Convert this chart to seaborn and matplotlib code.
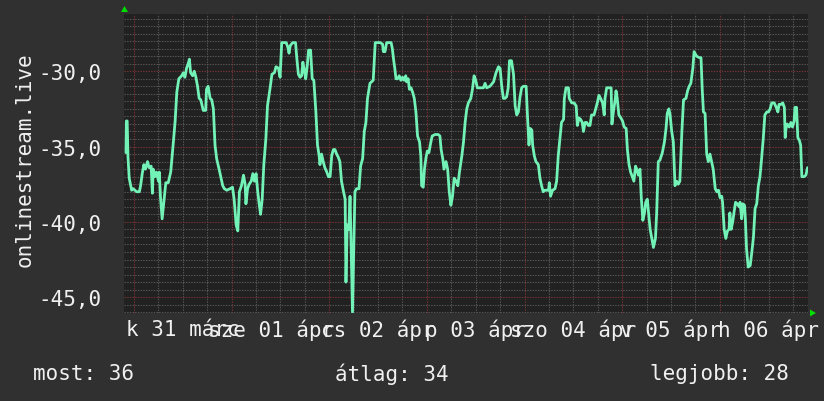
import matplotlib
matplotlib.use("Agg")
import matplotlib.pyplot as plt
import seaborn as sns
import pandas as pd
import numpy as np

# hours relative to 01 Apr 00:00
hours = [-26.0, -25.9, -25.7, -25.5, -25.2, -24.6, -24.2, -23.8, -23.4, -22.7, -22.4, -22.0, -21.6, -21.2,
         -20.7, -20.3, -19.8, -19.5, -19.3, -18.9, -18.5, -18.0, -17.8, -17.5, -17.1, -16.6, -16.2, -15.6,
         -15.0, -14.5, -13.9, -13.5, -13.0, -12.3, -11.9, -11.5, -11.1, -10.7, -10.4, -10.1, -9.6, -9.2,
         -8.8, -8.4, -8.0, -7.6, -7.0, -6.4, -6.2, -5.8, -5.3, -4.9, -4.5, -4.1, -3.7, -3.1, -2.7, -2.2,
         -1.8, -1.2, -0.4, 0.2, 0.6, 1.1, 1.5, 1.9, 2.4, 2.9, 3.3, 3.5, 3.9, 4.3, 4.8, 5.2, 5.6, 6.0, 6.4,
         6.8, 7.1, 7.5, 7.9, 8.4, 8.8, 9.4, 9.9, 10.5, 10.9, 11.5, 11.9, 12.3, 12.9, 13.4, 13.8, 14.1, 14.4,
         15.0, 15.7, 16.0, 16.4, 16.8, 17.2, 17.5, 17.9, 18.2, 18.6, 18.9, 19.4, 19.8, 20.2, 20.7, 21.1,
         21.5, 21.7, 22.1, 22.5, 22.9, 23.4, 23.8, 24.2, 24.6, 25.0, 25.4, 25.8, 26.2, 26.6, 27.0, 27.5,
         27.9, 28.1, 28.4, 28.8, 29.1, 29.3, 29.7, 30.1, 30.3, 30.7, 31.3, 31.7, 32.2, 32.6, 33.0, 33.4,
         34.0, 34.4, 34.8, 35.3, 35.8, 36.5, 37.1, 37.3, 37.7, 38.1, 38.8, 39.2, 39.5, 39.8, 40.1, 40.4,
         40.8, 41.2, 41.6, 42.0, 42.4, 42.8, 43.0, 43.4, 43.7, 44.1, 44.5, 44.9, 45.3, 45.7, 46.2, 46.5,
         46.7, 47.1, 47.4, 47.8, 48.1, 48.5, 48.9, 49.3, 50.0, 50.8, 51.2, 51.5, 51.9, 52.2, 52.7, 53.1,
         53.5, 53.9, 54.3, 54.7, 55.2, 55.6, 56.0, 56.6, 57.0, 57.4, 57.8, 58.2, 58.8, 59.2, 59.6, 60.0,
         60.4, 61.1, 61.9, 62.3, 62.7, 63.5, 64.4, 65.0, 65.6, 66.0, 66.4, 66.8, 67.2, 67.6, 68.0, 68.3,
         68.8, 69.3, 69.7, 70.1, 70.5, 70.9, 71.3, 71.7, 72.4, 72.7, 73.1, 73.4, 73.8, 74.0, 74.4, 74.8,
         75.4, 75.8, 76.2, 76.6, 77.0, 77.5, 77.9, 78.1, 78.4, 78.9, 79.5, 79.9, 80.3, 80.7, 81.1, 81.6,
         81.8, 82.2, 82.8, 83.0, 83.6, 84.2, 84.7, 85.0, 85.4, 85.8, 86.2, 86.5, 86.9, 87.3, 87.7, 88.1,
         88.5, 89.1, 89.5, 89.9, 90.3, 90.7, 91.2, 91.6, 91.8, 92.2, 92.9, 93.3, 93.5, 93.9, 94.3, 94.5,
         94.8, 95.2, 95.7, 96.1, 96.5, 97.0, 97.3, 97.7, 98.1, 98.5, 98.9, 99.3, 99.6, 100.0, 100.4, 100.7,
         101.1, 101.5, 101.8, 102.2, 102.5, 102.9, 103.3, 103.7, 104.2, 104.5, 104.9, 105.3, 105.9, 106.4,
         106.8, 107.1, 107.5, 107.8, 108.2, 108.6, 109.0, 109.4, 109.8, 110.2, 110.7, 111.1, 111.7, 112.1,
         112.5, 112.9, 113.4, 113.7, 114.3, 115.0, 115.4, 115.7, 116.0, 116.4, 116.8, 117.2, 117.6, 118.0,
         118.4, 118.9, 119.3, 119.7, 120.1, 120.5, 120.7, 121.1, 121.5, 121.9, 122.3, 122.5, 122.8, 123.2,
         123.5, 123.9, 124.3, 124.8, 125.0, 125.4, 125.7, 126.1, 126.3, 126.6, 127.0, 127.5, 127.9, 128.3,
         128.7, 129.1, 129.5, 129.9, 130.3, 130.7, 131.1, 131.6, 132.0, 132.4, 132.8, 133.4, 133.9, 134.3,
         134.6, 135.1, 135.5, 135.9, 136.1, 136.3, 136.6, 137.1, 137.5, 137.9, 138.3, 138.5, 138.9, 139.2,
         139.6, 139.9, 140.2, 140.7, 141.2, 141.6]

signal = [-35.4, -33.3, -33.3, -35.7, -37.1, -37.9, -37.8, -37.9, -38.0, -38.0, -37.6, -36.8, -36.2, -36.5,
          -36.0, -36.4, -36.3, -38.1, -36.5, -37.0, -36.7, -37.3, -36.7, -38.4, -39.8, -38.5, -37.4, -37.4,
          -36.7, -35.2, -33.3, -31.4, -30.5, -30.3, -30.1, -30.4, -29.8, -29.5, -29.2, -30.1, -30.3, -30.0,
          -30.4, -31.0, -31.8, -31.9, -32.6, -32.6, -31.2, -31.0, -31.8, -31.9, -32.5, -34.9, -35.8, -36.5,
          -37.0, -37.6, -37.8, -37.9, -37.8, -37.7, -38.5, -40.2, -40.6, -38.0, -37.6, -36.9, -37.5, -38.8,
          -37.8, -37.5, -37.3, -36.8, -37.3, -36.8, -38.0, -38.9, -39.5, -38.5, -36.2, -34.5, -32.3, -31.2,
          -30.2, -30.1, -29.7, -29.8, -30.4, -28.1, -28.1, -28.1, -28.4, -28.8, -28.3, -28.1, -28.1, -29.1,
          -30.2, -30.4, -30.3, -29.4, -30.0, -30.5, -29.6, -28.6, -28.6, -30.5, -30.6, -32.7, -34.9, -35.6,
          -36.2, -35.5, -36.0, -36.4, -36.7, -37.0, -37.0, -35.6, -35.2, -35.2, -35.5, -35.7, -36.0, -37.3,
          -38.0, -38.5, -44.0, -40.2, -40.5, -38.3, -40.7, -46.0, -40.5, -38.0, -37.8, -37.8, -36.3, -35.8,
          -34.0, -33.4, -31.8, -30.8, -30.7, -30.6, -28.1, -28.1, -28.1, -28.2, -28.7, -28.7, -28.1, -28.1,
          -28.1, -28.5, -29.2, -29.8, -30.5, -30.5, -30.3, -30.6, -30.4, -30.6, -30.3, -30.7, -30.5, -31.2,
          -31.1, -31.4, -31.8, -32.7, -34.3, -34.7, -35.6, -37.6, -37.7, -36.5, -35.7, -35.3, -35.4, -34.8,
          -34.3, -34.2, -34.2, -34.3, -35.2, -35.8, -36.5, -36.0, -36.5, -38.0, -38.9, -38.3, -37.1, -37.3,
          -37.6, -36.7, -35.6, -34.7, -33.4, -32.5, -32.1, -31.8, -31.2, -30.3, -30.6, -31.1, -31.1, -31.1,
          -30.8, -31.1, -31.0, -30.7, -30.1, -29.7, -29.8, -31.0, -31.8, -31.8, -31.7, -31.1, -29.3, -29.3,
          -30.2, -32.3, -32.9, -32.7, -31.7, -31.1, -31.0, -31.0, -32.8, -34.9, -33.8, -33.9, -34.9, -35.6,
          -36.0, -36.2, -37.1, -37.6, -38.0, -37.9, -37.9, -37.9, -37.4, -38.3, -37.9, -37.8, -37.3, -35.6,
          -34.5, -33.4, -33.2, -31.8, -31.1, -31.1, -31.8, -32.1, -32.1, -32.3, -33.6, -33.1, -33.2, -33.4,
          -34.0, -33.4, -33.4, -33.6, -33.6, -32.9, -32.9, -32.5, -32.1, -31.6, -31.8, -32.1, -32.9, -31.8,
          -31.1, -31.1, -31.1, -33.5, -32.6, -31.9, -31.3, -31.8, -32.9, -33.1, -33.3, -33.7, -33.8, -35.2,
          -36.2, -36.7, -37.0, -37.3, -36.3, -36.5, -36.9, -36.5, -38.3, -39.9, -39.4, -38.7, -38.5, -39.4,
          -40.5, -41.1, -41.7, -41.1, -39.4, -36.0, -35.9, -35.4, -34.7, -33.8, -32.8, -32.5, -32.9, -34.0,
          -34.7, -37.6, -37.3, -37.5, -37.3, -34.0, -31.9, -31.8, -31.3, -31.0, -30.8, -29.8, -28.7, -29.0,
          -29.1, -29.1, -31.2, -32.7, -32.8, -35.5, -36.0, -35.5, -36.0, -36.5, -37.8, -38.0, -37.9, -38.4,
          -38.3, -38.7, -40.5, -41.1, -40.6, -40.5, -39.4, -40.5, -40.0, -39.4, -38.7, -38.8, -39.0, -38.7,
          -39.8, -38.8, -38.9, -39.8, -41.8, -43.0, -42.9, -42.0, -41.0, -39.1, -38.8, -37.6, -37.0, -35.8,
          -34.5, -32.9, -32.7, -32.7, -32.5, -32.1, -32.1, -32.4, -32.7, -32.2, -32.2, -32.1, -32.4, -34.4,
          -33.8, -33.5, -33.7, -33.4, -33.7, -33.3, -32.4, -32.4, -34.4, -34.6, -34.9, -37.0, -37.0, -36.9,
          -36.4, -36.4]

day_ticks = [-12, 12, 36, 60, 84, 108, 132]
day_labels = ["k 31 márc", "sze 01 ápr", "cs 02 ápr", "p 03 ápr", "szo 04 ápr", "v 05 ápr", "h 06 ápr"]
y_ticks = [-45, -40, -35, -30]
y_labels = ["-45,0", "-40,0", "-35,0", "-30,0"]
series_name = "onlinestream.live"
stats = [("most", 36), ("átlag", 34), ("legjobb", 28)]

n = min(len(hours), len(signal))
df = pd.DataFrame({"hours": hours[:n], "signal": signal[:n]})

sns.set_style("dark")
plt.rcParams["font.family"] = ["DejaVu Sans Mono", "DejaVu Sans"]

BG = "#303030"
PLOT_BG = "#212121"
LINE = "#72f2b6"
MINOR = "#585858"
MAJOR = "#7a3434"
TEXT = "#f0f0f0"

fig = plt.figure(figsize=(8.24, 4.02), dpi=100, facecolor=BG)
ax = fig.add_axes([124 / 824, 1 - 314 / 402, (808 - 124) / 824, (314 - 15) / 402])
ax.set_facecolor(PLOT_BG)

ax.set_xlim(-26.48, 141.71)
ax.set_ylim(-46.05, -26.2)

# grids
ax.set_xticks(np.arange(-24, 142, 24))
ax.set_xticks(np.arange(-24, 142, 6), minor=True)
ax.set_yticks(y_ticks)
ax.set_yticks(np.arange(-46, -26.0, 0.5), minor=True)
ax.grid(False)
ax.grid(True, which="minor", color=MINOR, linestyle=(0, (1.2, 1.2)), linewidth=0.8, zorder=0)
ax.grid(True, which="major", color=MAJOR, linestyle=(0, (1.2, 1.2)), linewidth=0.8, zorder=0.5)

sns.lineplot(data=df, x="hours", y="signal", ax=ax, color=LINE, linewidth=2.0, zorder=3)

ax.set_xticklabels([])
ax.tick_params(axis="x", which="both", length=0)
ax.set_yticklabels(y_labels, fontsize=15, color=TEXT)
ax.tick_params(axis="y", which="major", length=3, color=MAJOR, pad=13)
ax.tick_params(axis="y", which="minor", length=2, color=MINOR)

# day labels centred at noon, just below the plot
label_shift_px = [0, -9, 0, 0, 0, 0, 0]
for t, lab, sh in zip(day_ticks, day_labels, label_shift_px):
    tr = ax.get_xaxis_transform() + matplotlib.transforms.ScaledTranslation(sh / 100, -6 / 100, fig.dpi_scale_trans)
    ax.text(t, 0, lab, transform=tr, ha="center", va="top",
            fontsize=15, color=TEXT, clip_on=False)

ax.set_xlabel("")
ax.set_ylabel("")
for s in ax.spines.values():
    s.set_visible(False)

# axis arrows
fig.patches.append(matplotlib.patches.Polygon(
    [(121 / 824, 1 - 13 / 402), (128 / 824, 1 - 13 / 402), (124.5 / 824, 1 - 7 / 402)],
    closed=True, transform=fig.transFigure, facecolor="#00dd00", edgecolor="none"))
fig.patches.append(matplotlib.patches.Polygon(
    [(810 / 824, 1 - 310.5 / 402), (810 / 824, 1 - 317.5 / 402), (816 / 824, 1 - 314 / 402)],
    closed=True, transform=fig.transFigure, facecolor="#00dd00", edgecolor="none"))

fig.text(25 / 824, 1 - 160 / 402, series_name, rotation=90, ha="center", va="center",
         fontsize=15, color=TEXT)

positions = [33, 335, 650]
for (name, val), px in zip(stats, positions):
    fig.text(px / 824, 1 - 374 / 402, f"{name}: {val}", ha="left", va="center",
             fontsize=15, color=TEXT)

fig.savefig("out.png", dpi=100, facecolor=BG)
